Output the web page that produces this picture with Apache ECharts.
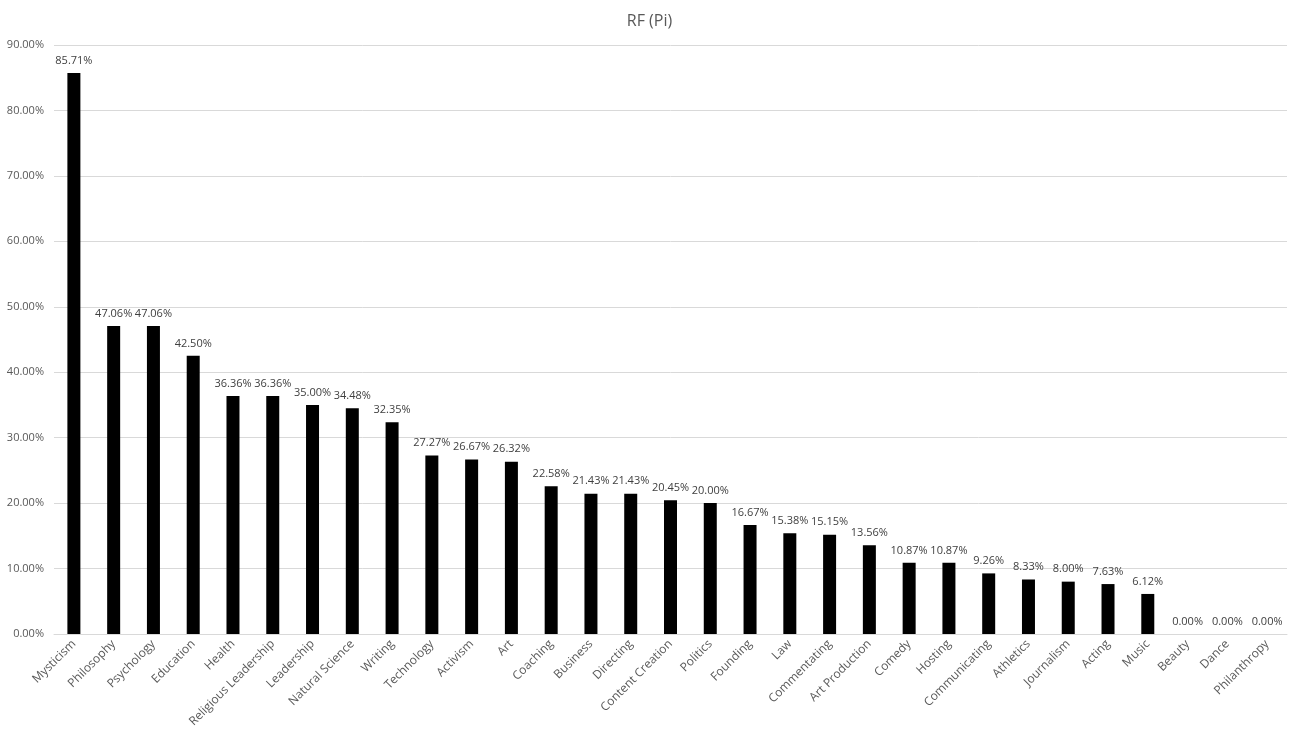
<!DOCTYPE html>
<html><head><meta charset="utf-8">
<script src="https://cdn.jsdelivr.net/npm/echarts@6/dist/echarts.min.js"></script>
<style>html,body{margin:0;padding:0;background:#fff}#c{width:1299px;height:749px}</style>
</head><body><div id="c"></div>
<script>
const categories = ["Mysticism","Philosophy","Psychology","Education","Health","Religious Leadership","Leadership","Natural Science","Writing","Technology","Activism","Art","Coaching","Business","Directing","Content Creation","Politics","Founding","Law","Commentating","Art Production","Comedy","Hosting","Communicating","Athletics","Journalism","Acting","Music","Beauty","Dance","Philanthropy"];
const values = [85.71,47.06,47.06,42.50,36.36,36.36,35.00,34.48,32.35,27.27,26.67,26.32,22.58,21.43,21.43,20.45,20.00,16.67,15.38,15.15,13.56,10.87,10.87,9.26,8.33,8.00,7.63,6.12,0.00,0.00,0.00];
const title = "RF (Pi)";
const font = "'Open Sans', 'Noto Sans', sans-serif";
const chart = echarts.init(document.getElementById('c'));
chart.setOption({
  animation: false,
  title: {text: title, left: 'center', top: 8, textStyle: {fontFamily: font, fontSize: 16, fontWeight: 'normal', color: '#595959'}},
  grid: {left: 54, right: 12, top: 45, bottom: 115},
  xAxis: {type: 'category', data: categories,
    axisLine: {lineStyle: {color: '#d9d9d9'}}, axisTick: {show: false},
    axisLabel: {rotate: 45, interval: 0, fontFamily: font, fontSize: 12, color: '#595959', margin: 8}},
  yAxis: {type: 'value', min: 0, max: 90, interval: 10,
    axisLine: {show: false}, axisTick: {show: false},
    splitLine: {lineStyle: {color: '#d9d9d9'}},
    axisLabel: {formatter: v => v.toFixed(2) + '%', fontFamily: font, fontSize: 11, color: '#595959', margin: 10}},
  series: [{type: 'bar', data: values, barWidth: 13, itemStyle: {color: '#000'},
    label: {show: true, position: 'top', distance: 7, formatter: p => p.value.toFixed(2) + '%', fontFamily: font, fontSize: 11, color: '#404040'}}]
});
</script></body></html>
